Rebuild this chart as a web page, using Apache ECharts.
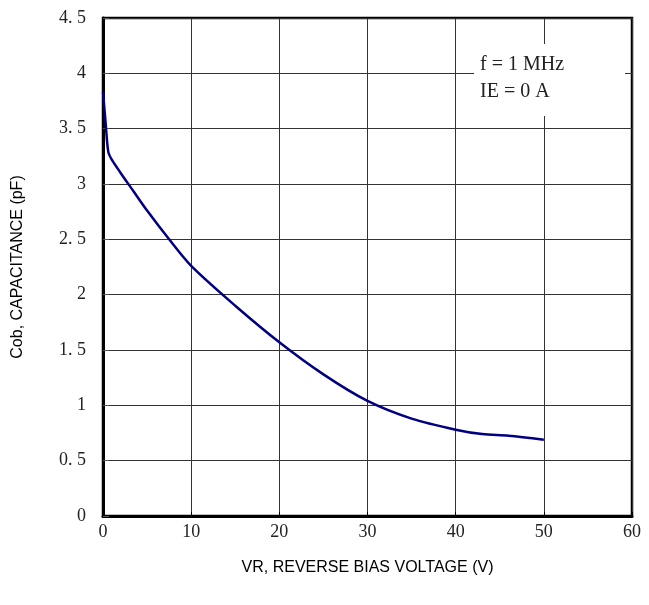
<!DOCTYPE html>
<html>
<head>
<meta charset="utf-8">
<script src="https://cdn.jsdelivr.net/npm/echarts@6/dist/echarts.min.js"></script>
<style>
  html, body { margin: 0; padding: 0; background: #fff; }
  #main { width: 649px; height: 605px; }
</style>
</head>
<body>
<div id="main"></div>
<script>
// reverse bias voltage (V) and capacitance (pF)
var voltage = [0, 0.3, 0.6, 1, 2, 3.5, 5, 7.5, 10, 15, 20, 25, 30, 35, 40, 43, 46, 50];
var capacitance = [3.83, 3.55, 3.29, 3.22, 3.1, 2.93, 2.76, 2.5, 2.26, 1.9, 1.57, 1.28, 1.04, 0.88, 0.78, 0.74, 0.725, 0.69];
var notes = ['f = 1 MHz', 'IE = 0 A'];

var chartDom = document.getElementById('main');
var myChart = echarts.init(chartDom);
var option;

var points = voltage.map(function (v, i) { return [v, capacitance[i]]; });
var tickFont = 'Liberation Serif';

option = {
    animation: false,
    grid: {
        left: 103, right: 17, top: 18, bottom: 89,
        show: true,
        borderColor: '#000',
        borderWidth: 2.5
    },
    xAxis: {
        type: 'value',
        min: 0, max: 60, interval: 10,
        name: 'VR, REVERSE BIAS VOLTAGE (V)',
        nameLocation: 'middle',
        nameGap: 44,
        nameTextStyle: { fontFamily: 'Liberation Sans', fontSize: 16, color: '#000' },
        axisLine: { show: true, lineStyle: { color: '#000', width: 3 } },
        axisTick: { show: true, inside: true, length: 4, lineStyle: { color: '#000' } },
        axisLabel: { fontFamily: tickFont, fontSize: 18, color: '#222', margin: 7 },
        splitLine: { show: true, lineStyle: { color: '#333', width: 1 } }
    },
    yAxis: {
        type: 'value',
        min: 0, max: 4.5, interval: 0.5,
        name: 'Cob, CAPACITANCE (pF)',
        nameLocation: 'middle',
        nameGap: 77,
        nameTextStyle: { fontFamily: 'Liberation Sans', fontSize: 16, color: '#000' },
        axisLine: { show: true, lineStyle: { color: '#000', width: 3 } },
        axisTick: { show: true, inside: true, length: 6, lineStyle: { color: '#555' } },
        axisLabel: {
            fontFamily: tickFont, fontSize: 18, color: '#222', margin: 17,
            formatter: function (v) { return String(v).replace('.', '. '); }
        },
        splitLine: { show: true, lineStyle: { color: '#333', width: 1 } }
    },
    graphic: [
        {
            type: 'rect',
            shape: { x: 474, y: 44, width: 151, height: 72 },
            style: { fill: '#fff' },
            z: 10
        },
        {
            type: 'text',
            left: 480, top: 51,
            style: {
                text: notes.join('\n'),
                font: '20px "Liberation Serif"',
                lineHeight: 27,
                fill: '#222'
            },
            z: 11
        }
    ],
    series: [
        {
            type: 'line',
            data: points,
            smooth: 0.3,
            showSymbol: false,
            lineStyle: { color: '#000080', width: 2.5 },
            z: 5
        }
    ]
};

option && myChart.setOption(option);
</script>
</body>
</html>
